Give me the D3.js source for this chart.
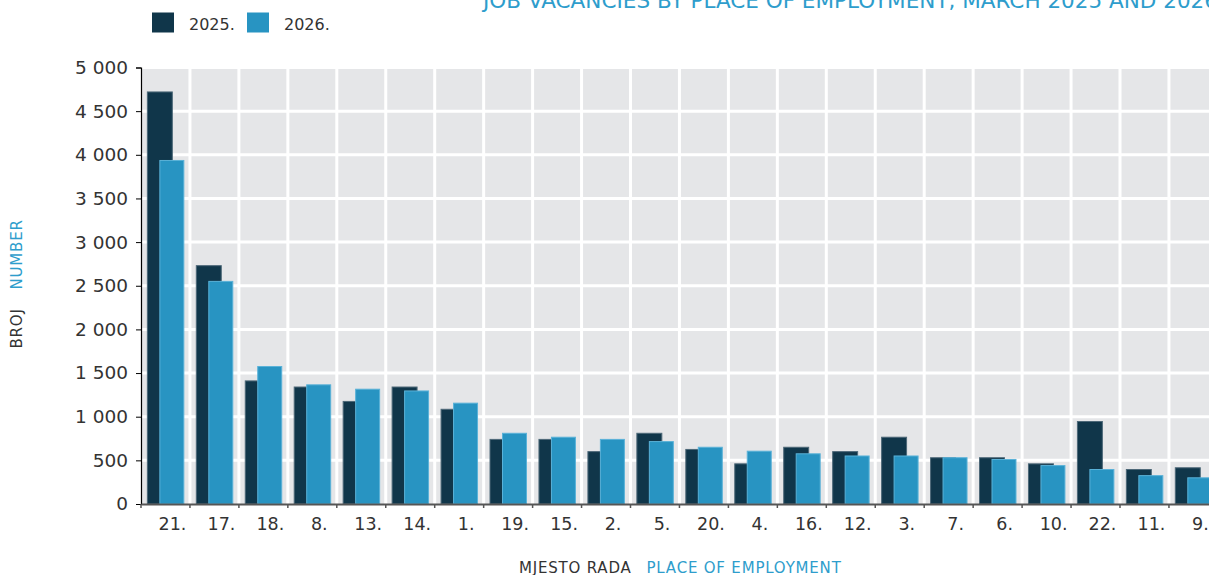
<!DOCTYPE html>
<html>
<head>
<meta charset="utf-8">
<script src="https://cdn.jsdelivr.net/npm/d3@7"></script>
<style>
  html, body { margin: 0; padding: 0; background: #ffffff; overflow: hidden; }
  svg { display: block; }
  text { font-family: "DejaVu Sans", "Liberation Sans", sans-serif; }
</style>
</head>
<body>
<svg id="chart" width="1209" height="575"></svg>
<script>
const categories = ["21.","17.","18.","8.","13.","14.","1.","19.","15.","2.","5.","20.","4.","16.","12.","3.","7.","6.","10.","22.","11.","9."];
const values2025 = [4720, 2730, 1410, 1340, 1175, 1340, 1085, 740, 740, 600, 810, 625, 460, 650, 600, 765, 530, 530, 460, 945, 395, 415];
const values2026 = [3935, 2550, 1575, 1365, 1315, 1295, 1155, 810, 765, 740, 715, 650, 605, 575, 550, 550, 530, 510, 440, 395, 325, 300];
const seriesNames = ["2025.", "2026."];
const yTicks = [0, 500, 1000, 1500, 2000, 2500, 3000, 3500, 4000, 4500, 5000];
const titleText = "JOB VACANCIES BY PLACE OF EMPLOYMENT, MARCH 2025 AND 2026";
const yTitleHr = "BROJ", yTitleEn = "NUMBER";
const xTitleHr = "MJESTO RADA", xTitleEn = "PLACE OF EMPLOYMENT";

(function () {
const DARK = "#10364a", LIGHT = "#2894c2", BLUE_TXT = "#2e9dcc", GREY_TXT = "#333333";

const svg = d3.select("#chart");
const pLeft = 141, pTop = 67.5, pBottom = 504, step = 48.95;
const pRight = pLeft + step * categories.length;

const x = d3.scaleBand().domain(categories).range([pLeft, pRight]).padding(0);
const y = d3.scaleLinear().domain([0, 5000]).range([pBottom, pTop]);
const bw = x.bandwidth();

svg.append("rect").attr("x", pLeft).attr("y", pTop).attr("width", pRight - pLeft).attr("height", pBottom - pTop).attr("fill", "#e5e6e8");

svg.append("g").selectAll("line").data(yTicks.filter(d => d > 0)).join("line")
  .attr("x1", pLeft).attr("x2", pRight).attr("y1", d => y(d)).attr("y2", d => y(d))
  .attr("stroke", "#ffffff").attr("stroke-width", 3);

svg.append("g").selectAll("line").data(categories.slice(1)).join("line")
  .attr("x1", d => x(d)).attr("x2", d => x(d)).attr("y1", pTop).attr("y2", pBottom)
  .attr("stroke", "#ffffff").attr("stroke-width", 3);

svg.append("g").selectAll("rect").data(categories).join("rect")
  .attr("x", (d) => x(d) + 0.13 * bw)
  .attr("y", (d, i) => y(values2025[i]))
  .attr("width", 0.51 * bw)
  .attr("height", (d, i) => pBottom - y(values2025[i]))
  .attr("fill", DARK).attr("stroke", "#4d6878").attr("stroke-width", 1);

svg.append("g").selectAll("rect").data(categories).join("rect")
  .attr("x", (d) => x(d) + 0.385 * bw)
  .attr("y", (d, i) => y(values2026[i]))
  .attr("width", 0.49 * bw)
  .attr("height", (d, i) => pBottom - y(values2026[i]))
  .attr("fill", LIGHT).attr("stroke", "#5ab2d8").attr("stroke-width", 1);

const yAxis = d3.axisLeft(y).tickValues(yTicks).tickSize(5).tickPadding(8)
  .tickFormat(d => d3.format(",")(d).replace(/,/g, " "));
const gy = svg.append("g").attr("transform", `translate(${pLeft},0)`).call(yAxis);
gy.select(".domain").attr("stroke", "#000000").attr("stroke-width", 1.2);
gy.selectAll(".tick line").attr("stroke", "#000000");
gy.selectAll(".tick text").attr("fill", GREY_TXT).style("font-size", "18.5px").style("font-family", "DejaVu Sans");

const xAxis = d3.axisBottom(x).tickSize(0).tickPadding(0);
const gx = svg.append("g").attr("transform", `translate(0,${pBottom})`).call(xAxis);
gx.select(".domain").attr("stroke", "#555555").attr("stroke-width", 2);
gx.selectAll(".tick text").attr("fill", GREY_TXT).style("font-size", "17.5px").style("font-family", "DejaVu Sans")
  .attr("dy", null).attr("y", 26).attr("x", 7);
gx.append("g").selectAll("line").data(categories).join("line")
  .attr("x1", d => x(d)).attr("x2", d => x(d)).attr("y1", 0).attr("y2", 4)
  .attr("stroke", "#555555").attr("stroke-width", 1.5);

const legendX = [152, 247];
seriesNames.forEach((name, i) => {
  svg.append("rect").attr("x", legendX[i]).attr("y", 12.5).attr("width", 22).attr("height", 20)
    .attr("fill", i === 0 ? DARK : LIGHT);
  svg.append("text").attr("x", legendX[i] + 37).attr("y", 30).text(name)
    .attr("fill", GREY_TXT).style("font-size", "16px");
});

svg.append("text").attr("x", 483).attr("y", 7.5).text(titleText)
  .attr("fill", BLUE_TXT).style("font-size", "20.5px")
  .attr("textLength", 735).attr("lengthAdjust", "spacingAndGlyphs");

svg.append("text").attr("transform", "translate(22,348.5) rotate(-90)").text(yTitleHr)
  .attr("fill", GREY_TXT).style("font-size", "15px").style("letter-spacing", "0.8px");
svg.append("text").attr("transform", "translate(22,289.5) rotate(-90)").text(yTitleEn)
  .attr("fill", BLUE_TXT).style("font-size", "15px").style("letter-spacing", "0.8px");

svg.append("text").attr("x", 519).attr("y", 572.5).text(xTitleHr)
  .attr("fill", GREY_TXT).style("font-size", "15px").style("letter-spacing", "0.8px");
svg.append("text").attr("x", 646.5).attr("y", 572.5).text(xTitleEn)
  .attr("fill", BLUE_TXT).style("font-size", "15px").style("letter-spacing", "0.8px");
})();
</script>
</body>
</html>
